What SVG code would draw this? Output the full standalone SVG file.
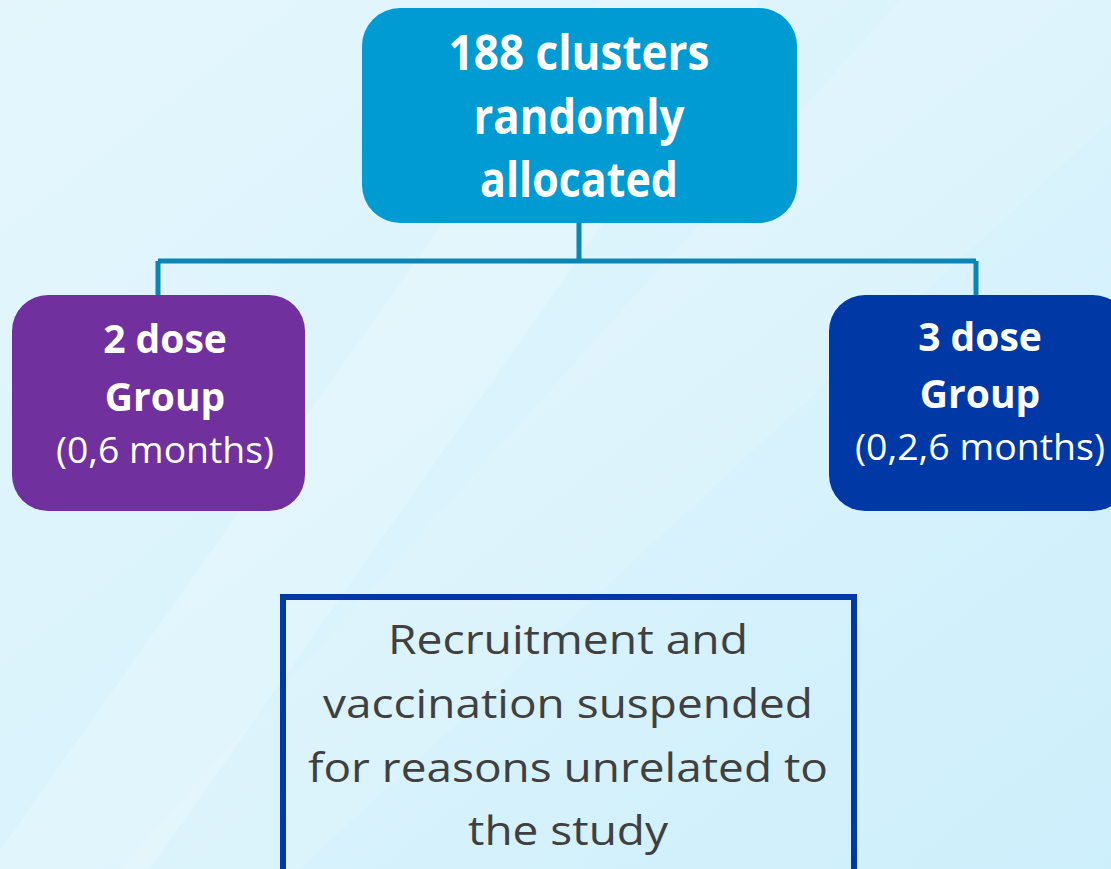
<svg xmlns="http://www.w3.org/2000/svg" width="1111" height="869" viewBox="0 0 1111 869">
<defs>
<linearGradient id="bg" x1="0" y1="0" x2="1" y2="1">
<stop offset="0" stop-color="#e4f6fc"/>
<stop offset="0.5" stop-color="#daf3fc"/>
<stop offset="1" stop-color="#cdeffb"/>
</linearGradient>
<style>
.hd{font-family:"Open Sans","Liberation Sans",sans-serif;font-weight:bold;fill:#ffffff;text-anchor:middle}
.sub{font-family:"Open Sans","Liberation Sans",sans-serif;fill:#ffffff;text-anchor:middle}
.body{font-family:"Open Sans","Liberation Sans",sans-serif;fill:#404040;text-anchor:middle}
.conn{stroke:#0a86b2;stroke-width:5;fill:none}
</style>
</defs>
<rect width="1111" height="869" fill="url(#bg)"/>
<polygon points="600,0 760,0 150,869 0,869 0,850" fill="#ffffff" opacity="0.18"/>
<polygon points="900,0 1111,0 1111,120 300,869 120,869" fill="#ffffff" opacity="0.12"/>
<g id="connectors">
<path class="conn" d="M579,223 V261 M158,261 H976 M158,261 V297 M976,261 V297"/>
</g>
<g id="top">
<rect x="362" y="8" width="435" height="215" rx="38" fill="#009bd3"/>
<text class="hd" x="579" y="70" font-size="48" textLength="261" lengthAdjust="spacingAndGlyphs">188 clusters</text>
<text class="hd" x="579" y="134" font-size="48" textLength="211" lengthAdjust="spacingAndGlyphs">randomly</text>
<text class="hd" x="579" y="197" font-size="48" textLength="198" lengthAdjust="spacingAndGlyphs">allocated</text>
</g>
<g id="two-dose">
<rect x="12" y="295" width="293" height="216" rx="36" fill="#70309e"/>
<text class="hd" x="165" y="353" font-size="39">2 dose</text>
<text class="hd" x="165" y="411" font-size="39">Group</text>
<text class="sub" x="165" y="463" font-size="36" textLength="218" lengthAdjust="spacingAndGlyphs">(0,6 months)</text>
</g>
<g id="three-dose">
<rect x="829" y="295" width="300" height="216" rx="36" fill="#0039a6"/>
<text class="hd" x="980" y="351" font-size="39">3 dose</text>
<text class="hd" x="980" y="408" font-size="39">Group</text>
<text class="sub" x="980" y="460" font-size="36" textLength="250" lengthAdjust="spacingAndGlyphs">(0,2,6 months)</text>
</g>
<g id="suspended">
<rect x="283" y="597" width="571" height="290" fill="none" stroke="#0039a6" stroke-width="6"/>
<text class="body" x="568" y="654" font-size="41" textLength="360" lengthAdjust="spacingAndGlyphs">Recruitment and</text>
<text class="body" x="568" y="718" font-size="41" textLength="490" lengthAdjust="spacingAndGlyphs">vaccination suspended</text>
<text class="body" x="568" y="782" font-size="41" textLength="520" lengthAdjust="spacingAndGlyphs">for reasons unrelated to</text>
<text class="body" x="568" y="845" font-size="41" textLength="200" lengthAdjust="spacingAndGlyphs">the study</text>
</g>
</svg>
